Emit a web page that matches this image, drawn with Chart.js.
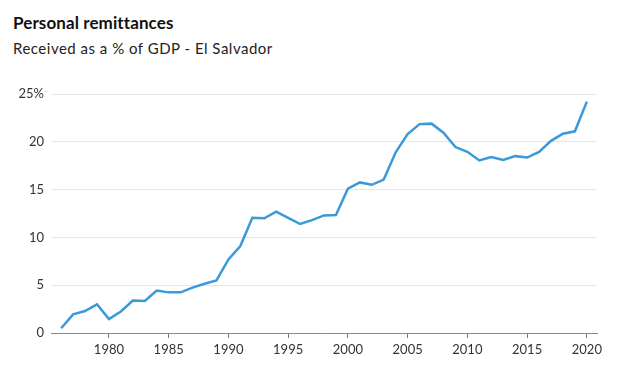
<!DOCTYPE html>
<html><head><meta charset="utf-8">
<script src="https://cdn.jsdelivr.net/npm/chart.js@4"></script>
<style>
html,body{margin:0;padding:0;background:#fff;}
#wrap{position:relative;width:620px;height:385px;overflow:hidden;}
#t{position:absolute;left:13px;top:12px;font:bold 17px Lato,"Open Sans",sans-serif;color:#111;letter-spacing:0.1px;}
#s{position:absolute;left:13px;top:39px;font:15px Lato,"Open Sans",sans-serif;color:#222;letter-spacing:0.5px;}
canvas{position:absolute;left:0;top:0;}
</style></head><body>
<div id="wrap">
<div id="t">Personal remittances</div>
<div id="s">Received as a % of GDP - El Salvador</div>
<canvas id="c" width="620" height="385"></canvas>
</div>
<script>
const years = [1976,1977,1978,1979,1980,1981,1982,1983,1984,1985,1986,1987,1988,1989,1990,1991,1992,1993,1994,1995,1996,1997,1998,1999,2000,2001,2002,2003,2004,2005,2006,2007,2008,2009,2010,2011,2012,2013,2014,2015,2016,2017,2018,2019,2020];
const remittances = [0.5,1.95,2.3,3.0,1.45,2.25,3.4,3.35,4.45,4.25,4.25,4.75,5.15,5.5,7.7,9.1,12.05,12.0,12.7,12.05,11.4,11.8,12.3,12.35,15.1,15.75,15.5,16.05,18.9,20.8,21.85,21.9,20.95,19.45,18.95,18.05,18.4,18.1,18.5,18.35,18.95,20.1,20.85,21.1,24.2];
const xTicks = [1980,1985,1990,1995,2000,2005,2010,2015,2020];
const yTicks = [0,5,10,15,20,25];

new Chart(document.getElementById('c'), {
  type: 'line',
  data: { datasets: [{
    data: years.map((y,i)=>({x:y,y:remittances[i]})),
    borderColor: '#3a9ad9', borderWidth: 2.5, pointRadius: 0, tension: 0, fill: false
  }]},
  options: {
    responsive: false, animation: false, devicePixelRatio: 1,
    layout: { padding: { top: 94, right: 23, bottom: 0, left: 0 } },
    plugins: { legend: { display: false }, tooltip: { enabled: false } },
    scales: {
      x: {
        type: 'linear', min: 1975.15, max: 2020.85,
        afterBuildTicks: s => { s.ticks = xTicks.map(v=>({value:v})); },
        afterFit: s => { s.height = 52; },
        ticks: { color: '#333', font: { family: 'Lato', size: 13 }, padding: 4, maxRotation: 0,
                 callback: v => String(v) },
        grid: { drawOnChartArea: false, drawTicks: true, tickLength: 5, color: '#777' },
        border: { display: true, color: '#888', width: 1 }
      },
      y: {
        min: 0, max: 25,
        afterBuildTicks: s => { s.ticks = yTicks.map(v=>({value:v})); },
        afterFit: s => { s.width = 51; },
        ticks: { color: '#333', font: { family: 'Lato', size: 13 }, padding: 7,
                 callback: v => v === 25 ? '25%' : String(v) },
        grid: { color: '#e6e6e6', lineWidth: 1, drawTicks: false },
        border: { display: false }
      }
    }
  }
});
</script>
</body></html>
